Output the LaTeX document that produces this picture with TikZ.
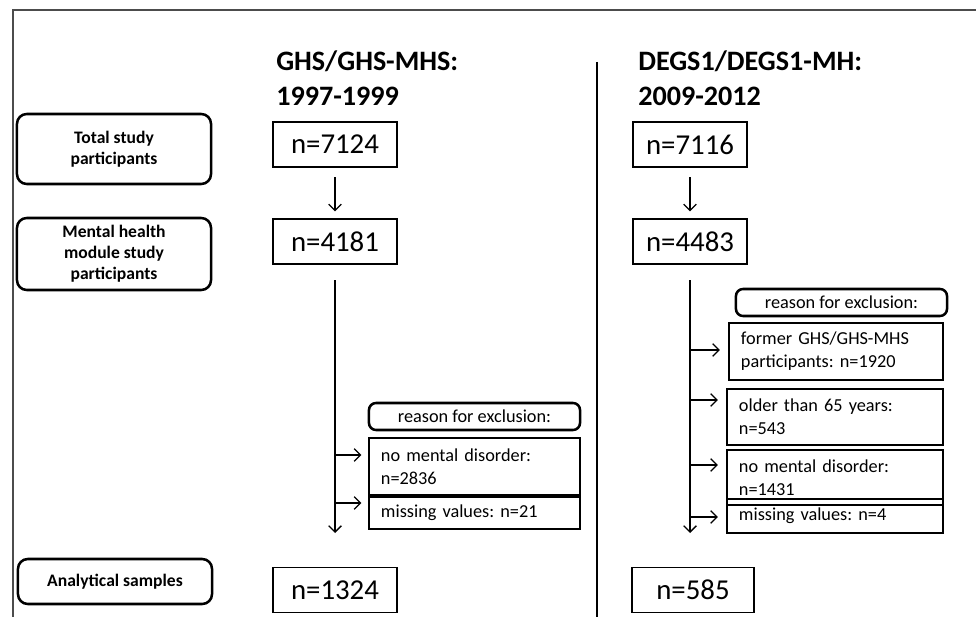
\documentclass[tikz,border=0pt]{standalone}
\usepackage{fontspec}
\setmainfont{Carlito}
\usetikzlibrary{arrows.meta,positioning}
\frenchspacing

\begin{document}
\begin{tikzpicture}[
    x=0.025cm, y=-0.025cm,
    >={Straight Barb[length=4.5pt,width=9pt]},
    stage/.style={rectangle, draw, line width=1.8pt, rounded corners=7pt,
                  minimum width=4.85cm, align=center, inner sep=0pt,
                  font=\bfseries\fontsize{12.5}{15}\selectfont},
    count/.style={rectangle, draw, line width=0.9pt, minimum height=1.125cm,
                  inner sep=0pt, font=\fontsize{20.5}{22}\selectfont},
    reason/.style={rectangle, draw, line width=1.8pt, rounded corners=5pt,
                   minimum width=5.275cm, minimum height=0.675cm, inner sep=0pt,
                   font=\fontsize{13}{16}\selectfont},
    excl/.style={rectangle, draw, line width=0.9pt, align=left,
                 inner xsep=0.3cm, inner ysep=0pt,
                 font=\fontsize{13}{16.5}\selectfont},
    head/.style={anchor=north west, align=left, inner sep=0pt,
                 font=\bfseries\fontsize{20}{25}\selectfont},
    arr/.style={->, line width=0.9pt}
  ]
    \useasboundingbox (0,0) rectangle (976,617);

    %--- Frame and divider ---
    \draw[gray!60!black, line width=1.2pt] (13,617) -- (13,10) -- (976,10);
    \draw[line width=0.9pt] (597,62) -- (597,617);

    %--- Column headings ---
    \node[head] (hdrA) at (276,50) {GHS/GHS-MHS:\\1997-1999};
    \node[head] (hdrB) at (638,50) {DEGS1/DEGS1-MH:\\2009-2012};

    %--- Stage labels (left column) ---
    \node[stage, minimum height=1.75cm]  (total)  at (114,149)   {Total study\\participants};
    \node[stage, minimum height=1.8cm]   (mental) at (114,254)   {Mental health\\module study\\participants};
    \node[stage, minimum height=1.125cm] (analyt) at (115,581.5) {Analytical samples};

    %--- Counts ---
    \node[count, minimum width=3.1cm]  (totA) at (335,144.5) {n=7124};
    \node[count, minimum width=3.1cm]  (mhA)  at (335,241.5) {n=4181};
    \node[count, minimum width=3.1cm]  (anA)  at (335,590)   {n=1324};
    \node[count, minimum width=2.85cm] (totB) at (690,144.5) {n=7116};
    \node[count, minimum width=2.85cm] (mhB)  at (690,241.5) {n=4483};
    \node[count, minimum width=3.05cm] (anB)  at (693,590)   {n=585};

    \draw[arr, shorten <=7pt, shorten >=5pt] (totA) -- (mhA);
    \draw[arr, shorten <=7pt, shorten >=5pt] (totB) -- (mhB);

    %--- Exclusions GHS ---
    \node[reason] (rsnA) at (474.5,416.5) {reason for exclusion:};
    \node[excl, text width=4.675cm, minimum height=1.425cm] (nmdA) at (474.5,466.5)
      {no mental disorder:\\n=2836};
    \node[excl, text width=4.675cm, minimum height=0.8cm] (misA) at (474.5,513)
      {missing values: n=21};

    \coordinate (endA) at (335,533);
    \draw[arr, shorten <=11pt] (mhA.south) -- (endA);
    \foreach \nd/\yy in {nmdA/455, misA/503}
      \draw[arr, shorten >=5pt] (335,\yy) coordinate (j\nd) -- (j\nd -| \nd.west);

    %--- Exclusions DEGS1 ---
    \node[reason] (rsnB) at (841.5,302.5) {reason for exclusion:};
    \node[excl, text width=4.75cm, minimum height=1.425cm] (forB) at (836,351.5)
      {former GHS/GHS-MHS\\participants: n=1920};
    \node[excl, text width=4.8cm, minimum height=1.4cm] (oldB) at (835,417)
      {older than 65 years:\\n=543};
    \node[excl, text width=4.8cm, minimum height=1.375cm] (nmdB) at (835,477.5)
      {no mental disorder:\\n=1431};
    \node[excl, text width=4.8cm, minimum height=0.85cm] (misB) at (835,516)
      {missing values: n=4};

    \coordinate (endB) at (690,533);
    \draw[arr, shorten <=11pt] (mhB.south) -- (endB);
    \foreach \nd/\yy in {forB/350, oldB/400, nmdB/465, misB/517}
      \draw[arr, shorten >=6pt] (690,\yy) coordinate (j\nd) -- (j\nd -| \nd.west);
  \end{tikzpicture}
\end{document}
